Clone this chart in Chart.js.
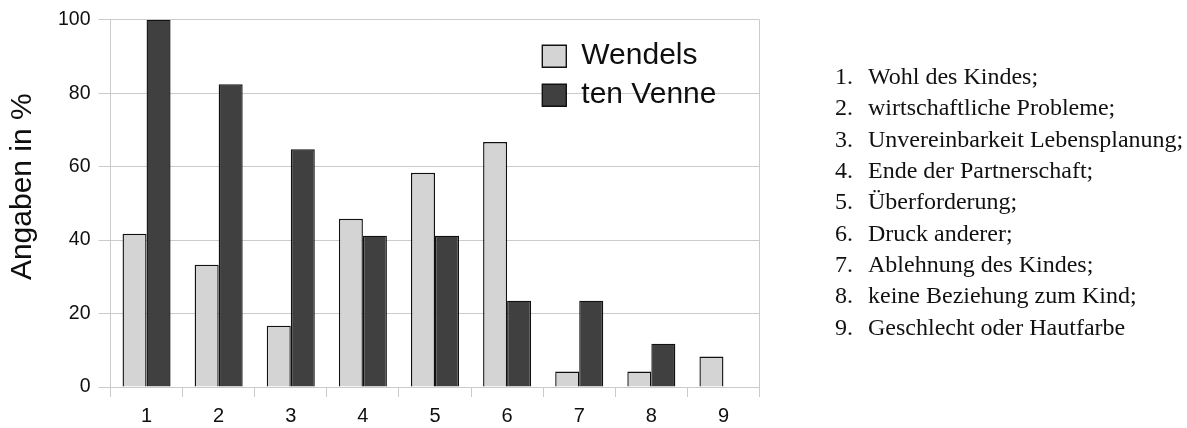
<!DOCTYPE html>
<html lang="de">
<head>
<meta charset="utf-8">
<title>Gründe – Wendels / ten Venne</title>
<script src="https://cdn.jsdelivr.net/npm/chart.js@4.4.1/dist/chart.umd.min.js"></script>
<style>
  html, body { margin: 0; padding: 0; background: #ffffff; }
  #wrap { position: relative; width: 1187px; height: 428px; overflow: hidden; }
  #chart { position: absolute; left: 0; top: 0; }
  #reasons {
    position: absolute; left: 835px; top: 61px; margin: 0; padding: 0;
    list-style: none; white-space: nowrap; color: #111;
    font-family: 'Liberation Serif', 'Times New Roman', serif;
    font-size: 24px; line-height: 31.35px;
  }
  #reasons .n { display: inline-block; width: 33px; }
</style>
</head>
<body>
<div id="wrap">
  <canvas id="chart" width="1187" height="428"></canvas>
  <ol id="reasons"></ol>
</div>
<script>
// Categories (reason numbers) and the reason each number stands for
const categories = ['1', '2', '3', '4', '5', '6', '7', '8', '9'];
const reasons = [
  'Wohl des Kindes;',
  'wirtschaftliche Probleme;',
  'Unvereinbarkeit Lebensplanung;',
  'Ende der Partnerschaft;',
  'Überforderung;',
  'Druck anderer;',
  'Ablehnung des Kindes;',
  'keine Beziehung zum Kind;',
  'Geschlecht oder Hautfarbe'
];

// Share of mentions in percent
const wendels  = [41.7, 33.3, 16.7, 45.8, 58.3, 66.7, 4.2, 4.2, 8.3];
const tenVenne = [100, 82.4, 64.7, 41.2, 41.2, 23.5, 23.5, 11.8, 0];

const seriesNames = ['Wendels', 'ten Venne'];
const yAxisTitle = 'Angaben in %';

// Numbered list next to the chart
const list = document.getElementById('reasons');
reasons.forEach((text, i) => {
  const li = document.createElement('li');
  const n = document.createElement('span');
  n.className = 'n';
  n.textContent = categories[i] + '.';
  li.appendChild(n);
  li.appendChild(document.createTextNode(text));
  list.appendChild(li);
});

const GRID = '#cbcbcb';
const INK = '#0f0f0f';
const EDGE = '#111111';

Chart.defaults.font.family = "'Liberation Sans', Arial, Helvetica, sans-serif";
Chart.defaults.color = INK;

// Put the legend in the upper right corner of the plot area
const legendPlacement = {
  id: 'legendPlacement',
  afterLayout(chart) {
    const lg = chart.legend;
    const a = chart.chartArea;
    const w = lg.width;
    lg.left = a.left + 422.8;
    lg.right = lg.left + w;
    lg.top = a.top + 12.5;
    lg.bottom = a.bottom;
    lg.height = lg.bottom - lg.top;
  }
};

new Chart(document.getElementById('chart'), {
  type: 'bar',
  data: {
    labels: categories,
    datasets: [
      {
        label: seriesNames[0],
        data: wendels,
        backgroundColor: '#d4d4d4',
        borderColor: EDGE,
        borderWidth: 1.4
      },
      {
        label: seriesNames[1],
        data: tenVenne,
        backgroundColor: '#404040',
        borderColor: EDGE,
        borderWidth: 1.4
      }
    ]
  },
  plugins: [legendPlacement],
  options: {
    responsive: false,
    animation: false,
    events: [],
    layout: { padding: { top: 18, right: 427.5, bottom: 0, left: 0 } },
    datasets: {
      bar: { categoryPercentage: 0.666, barPercentage: 1.0 }
    },
    scales: {
      x: {
        offset: true,
        afterFit(scale) { scale.height = 41; },
        grid: {
          offset: true,
          drawOnChartArea: true,
          color: (c) => (c.type === 'tick' && c.index > 0) ? 'rgba(0,0,0,0)' : GRID,
          tickColor: GRID,
          tickLength: 10,
          lineWidth: 1
        },
        border: { display: true, color: GRID, width: 1 },
        ticks: { font: { size: 20 }, padding: 7, color: INK }
      },
      y: {
        min: 0,
        max: 100,
        afterFit(scale) { scale.width = 110.5; },
        grid: { color: GRID, tickColor: GRID, tickLength: 12, lineWidth: 1 },
        border: { display: true, color: GRID, width: 1 },
        ticks: { stepSize: 20, font: { size: 19.5 }, padding: 8, color: INK },
        title: {
          display: true,
          text: '    ' + yAxisTitle,
          font: { size: 30 },
          color: INK,
          padding: { top: 5, bottom: 0 }
        }
      }
    },
    plugins: {
      tooltip: { enabled: false },
      legend: {
        position: 'chartArea',
        align: 'start',
        labels: {
          boxWidth: 24,
          boxHeight: 22,
          padding: 9,
          font: { size: 30 },
          color: INK
        }
      }
    }
  }
});
</script>
</body>
</html>
